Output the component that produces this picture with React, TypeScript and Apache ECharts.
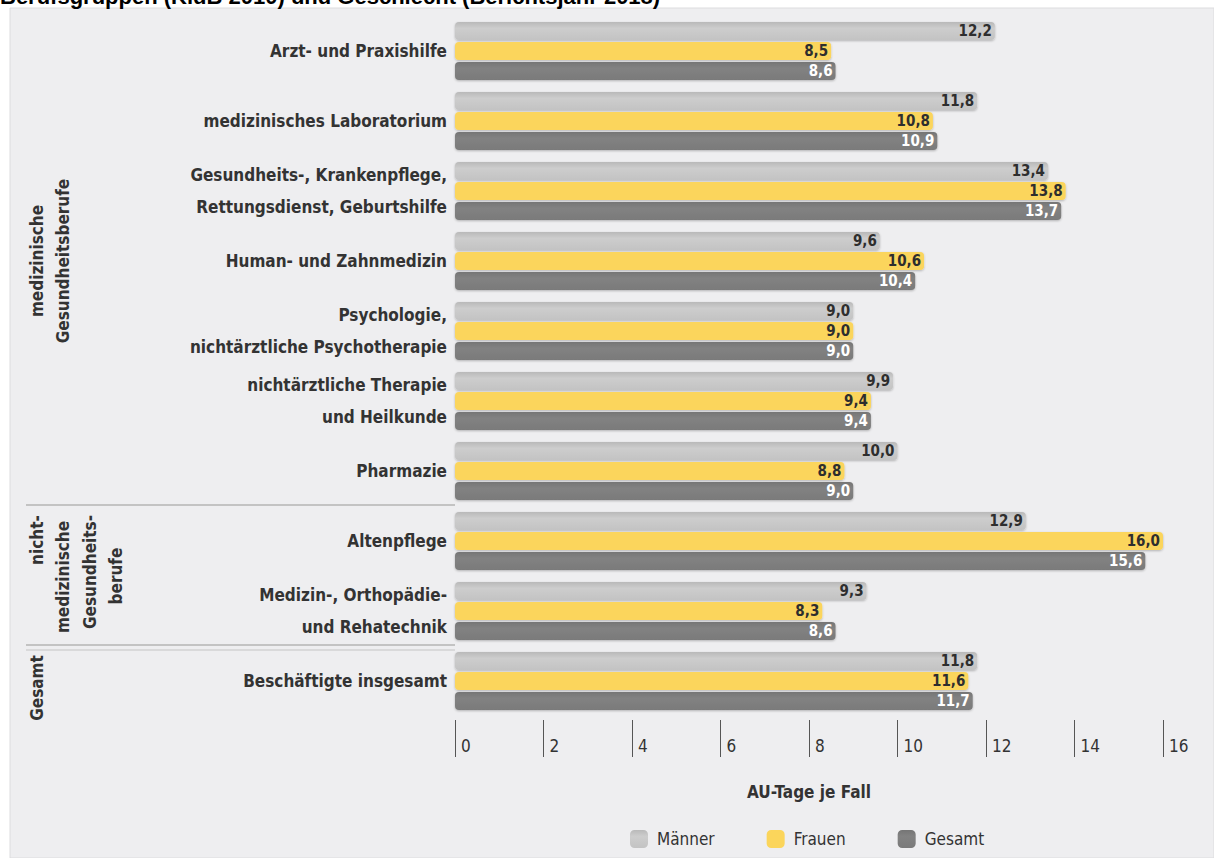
import React, { useEffect, useRef } from "react";
import * as echarts from "echarts";

// Berufsgruppen (Zeilen von oben nach unten)
const categories = [
  "Arzt- und Praxishilfe",
  "medizinisches Laboratorium",
  "Gesundheits-, Krankenpflege,\nRettungsdienst, Geburtshilfe",
  "Human- und Zahnmedizin",
  "Psychologie,\nnichtärztliche Psychotherapie",
  "nichtärztliche Therapie\nund Heilkunde",
  "Pharmazie",
  "Altenpflege",
  "Medizin-, Orthopädie-\nund Rehatechnik",
  "Beschäftigte insgesamt",
];

// AU-Tage je Fall
const maenner = [12.2, 11.8, 13.4, 9.6, 9.0, 9.9, 10.0, 12.9, 9.3, 11.8];
const frauen = [8.5, 10.8, 13.8, 10.6, 9.0, 9.4, 8.8, 16.0, 8.3, 11.6];
const gesamt = [8.6, 10.9, 13.7, 10.4, 9.0, 9.4, 9.0, 15.6, 8.6, 11.7];

const seriesNames = ["Männer", "Frauen", "Gesamt"];

const xMin = 0;
const xMax = 16;
const xInterval = 2;

const FONT = "'Liberation Sans Narrow', 'DejaVu Sans Condensed', 'Roboto Condensed', sans-serif";
const TEXT = "#333333";

const fmt = (v: number) => v.toFixed(1).replace(".", ",");

function makeSeries(name: string, data: number[], color: any, labelColor: string) {
  return {
    name,
    type: "bar",
    xAxisIndex: 0,
    yAxisIndex: 0,
    data,
    barWidth: 18,
    barGap: "11%",
    itemStyle: {
      color,
      borderRadius: 4,
      shadowColor: "rgba(0,0,0,0.25)",
      shadowBlur: 2,
      shadowOffsetY: 1,
    },
    label: {
      show: true,
      position: "insideRight",
      distance: 3,
      formatter: (p: any) => fmt(p.value),
      color: labelColor,
      fontFamily: FONT,
      fontWeight: "bold",
      fontSize: 15,
    },
  };
}

export default function App() {
  const ref = useRef<HTMLDivElement>(null);

  useEffect(() => {
    if (!ref.current) return;
    const chart = echarts.init(ref.current, null, { renderer: "svg" });

    const grey = new echarts.graphic.LinearGradient(0, 0, 0, 1, [
      { offset: 0, color: "#b9b9b9" },
      { offset: 0.35, color: "#cdcdcd" },
      { offset: 1, color: "#c3c3c3" },
    ]);
    const dark = new echarts.graphic.LinearGradient(0, 0, 0, 1, [
      { offset: 0, color: "#757575" },
      { offset: 0.35, color: "#828282" },
      { offset: 1, color: "#7a7a7a" },
    ]);

    const groupText = (text: string, x: number, y: number) => ({
      type: "text",
      x,
      y,
      rotation: Math.PI / 2,
      style: {
        text,
        align: "center",
        verticalAlign: "middle",
        fill: TEXT,
        font: `bold 17px ${FONT}`,
      },
    });

    chart.setOption({
      animation: false,
      backgroundColor: "#ffffff",
      graphic: [
        {
          type: "rect",
          z: -10,
          shape: { x: 10, y: 8, width: 1204, height: 850 },
          style: { fill: "#eeeef0", stroke: "#dcdcde", lineWidth: 1 },
        },
        {
          type: "text",
          x: 0,
          y: -4,
          style: {
            text: "Berufsgruppen (KldB 2010) und Geschlecht (Berichtsjahr 2018)",
            align: "left",
            verticalAlign: "middle",
            fill: "#000000",
            font: "bold 22px 'Liberation Sans', Arial, sans-serif",
          },
        },
        {
          type: "line",
          shape: { x1: 26, y1: 505, x2: 455, y2: 505 },
          style: { stroke: "#b4b4b4", lineWidth: 1.5 },
        },
        {
          type: "line",
          shape: { x1: 26, y1: 645, x2: 455, y2: 645 },
          style: { stroke: "#b4b4b4", lineWidth: 1.5 },
        },
        {
          type: "line",
          shape: { x1: 26, y1: 650, x2: 455, y2: 650 },
          style: { stroke: "#c4c4c4", lineWidth: 1 },
        },
        groupText("medizinische", 37, 261),
        groupText("Gesundheitsberufe", 63, 261),
        groupText("nicht-", 37, 540),
        groupText("medizinische", 63, 577),
        groupText("Gesundheits-", 90, 572),
        groupText("berufe", 116, 576),
        groupText("Gesamt", 37, 688),
      ],
      legend: {
        data: seriesNames,
        left: 625,
        top: 825,
        itemWidth: 18,
        itemHeight: 18,
        itemGap: 52,
        icon: "roundRect",
        textStyle: { fontFamily: FONT, fontSize: 17, color: TEXT, padding: [0, 0, 0, 4] },
      },
      grid: [
        { left: 455, top: 16, width: 708, height: 700 },
        { left: 455, top: 720, width: 708, height: 37 },
      ],
      xAxis: [
        { gridIndex: 0, type: "value", min: xMin, max: xMax, show: false },
        {
          gridIndex: 1,
          type: "value",
          min: xMin,
          max: xMax,
          interval: xInterval,
          position: "bottom",
          axisLine: { show: false },
          axisTick: { show: true, inside: true, length: 37, lineStyle: { color: "#555555", width: 1 } },
          splitLine: { show: false },
          axisLabel: {
            inside: true,
            margin: 3,
            align: "left",
            padding: [0, 0, 0, 6],
            fontFamily: FONT,
            fontSize: 17,
            color: TEXT,
          },
          name: "AU-Tage je Fall",
          nameLocation: "middle",
          nameGap: 26,
          nameTextStyle: { fontFamily: FONT, fontSize: 17, fontWeight: "bold", color: TEXT },
        },
      ],
      yAxis: [
        {
          gridIndex: 0,
          type: "category",
          inverse: true,
          data: categories,
          axisLine: { show: false },
          axisTick: { show: false },
          axisLabel: {
            margin: 8,
            fontFamily: FONT,
            fontSize: 17,
            fontWeight: "bold",
            lineHeight: 32,
            color: TEXT,
            align: "right",
          },
        },
        { gridIndex: 1, type: "value", show: false },
      ],
      series: [
        makeSeries(seriesNames[0], maenner, grey, "#2e2e2e"),
        makeSeries(seriesNames[1], frauen, "#fbd55b", "#2e2e2e"),
        makeSeries(seriesNames[2], gesamt, dark, "#ffffff"),
      ],
    });

    return () => chart.dispose();
  }, []);

  return (
    <div
      ref={ref}
      style={{ position: "absolute", left: 0, top: 0, width: 1214, height: 858 }}
    />
  );
}
